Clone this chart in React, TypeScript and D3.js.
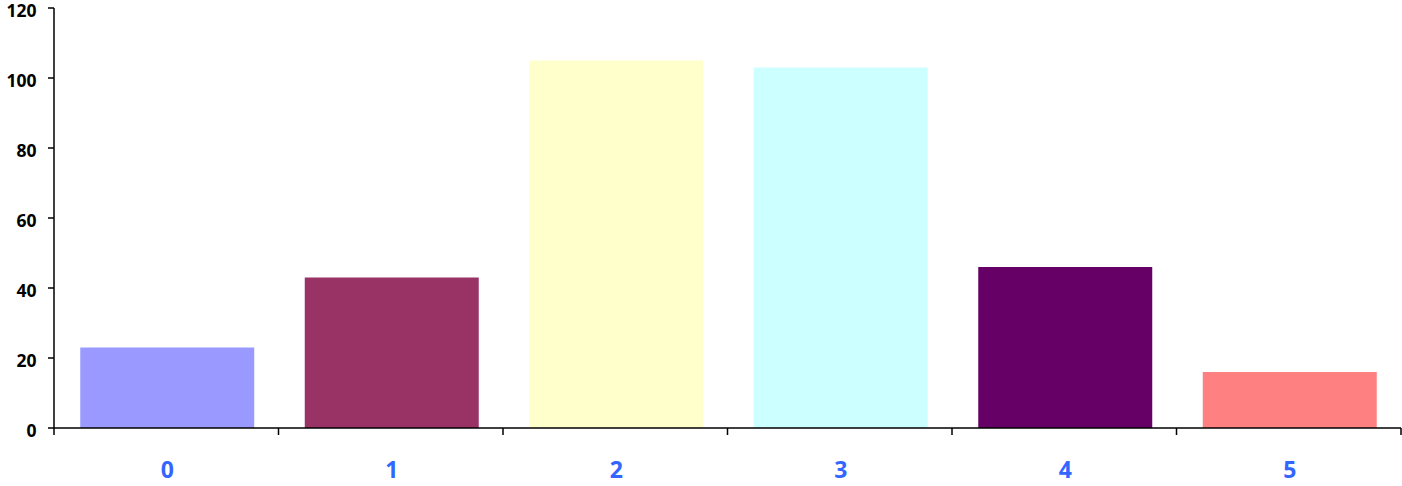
import React from "react";
import * as d3 from "d3";

const categories = ["0", "1", "2", "3", "4", "5"];
const values = [23, 43, 105, 103, 46, 16];
const colors = ["#9999FF", "#993366", "#FFFFCC", "#CCFFFF", "#660066", "#FF8080"];
const yTicks = [0, 20, 40, 60, 80, 100, 120];

export default function App() {
  const W = 1402, H = 486;
  const left = 54, right = 1401, top = 8, bottom = 428;
  const x = d3.scaleBand<string>().domain(categories).range([left, right]).paddingInner(0.225).paddingOuter(0.1125);
  const band = (right - left) / categories.length;
  const y = d3.scaleLinear().domain([0, 120]).range([bottom, top]);
  const font = "'Open Sans', Lato, sans-serif";
  return (
    <svg width={W} height={H} style={{ position: "absolute", left: 0, top: 0 }}>
      <rect x={0} y={0} width={W} height={H} fill="#fff" />
      {categories.map((c, i) => (
        <rect key={c} x={(x(c) as number) + 1} y={y(values[i])} width={x.bandwidth()} height={y(0) - y(values[i])} fill={colors[i]} />
      ))}
      <line x1={left} x2={left} y1={top} y2={bottom} stroke="#000" strokeWidth={1.5} />
      <line x1={left} x2={right} y1={bottom} y2={bottom} stroke="#000" strokeWidth={1.5} />
      {yTicks.map((t) => (
        <g key={t}>
          <line x1={left - 6} x2={left} y1={y(t)} y2={y(t)} stroke="#000" strokeWidth={1.5} />
          <text x={36.5} y={y(t) + 2.5} dy="0.36em" textAnchor="end" fontFamily={font} fontWeight="bold" fontSize={17.5} fill="#000">{t}</text>
        </g>
      ))}
      {d3.range(categories.length + 1).map((i) => (
        <line key={i} x1={left + i * band} x2={left + i * band} y1={bottom} y2={bottom + 7} stroke="#000" strokeWidth={1.5} />
      ))}
      {categories.map((c) => (
        <text key={c} x={(x(c) as number) + 1 + x.bandwidth() / 2} y={470} dy="0.36em" textAnchor="middle" fontFamily={font} fontWeight="bold" fontSize={23} fill="#3366FF">{c}</text>
      ))}
    </svg>
  );
}
